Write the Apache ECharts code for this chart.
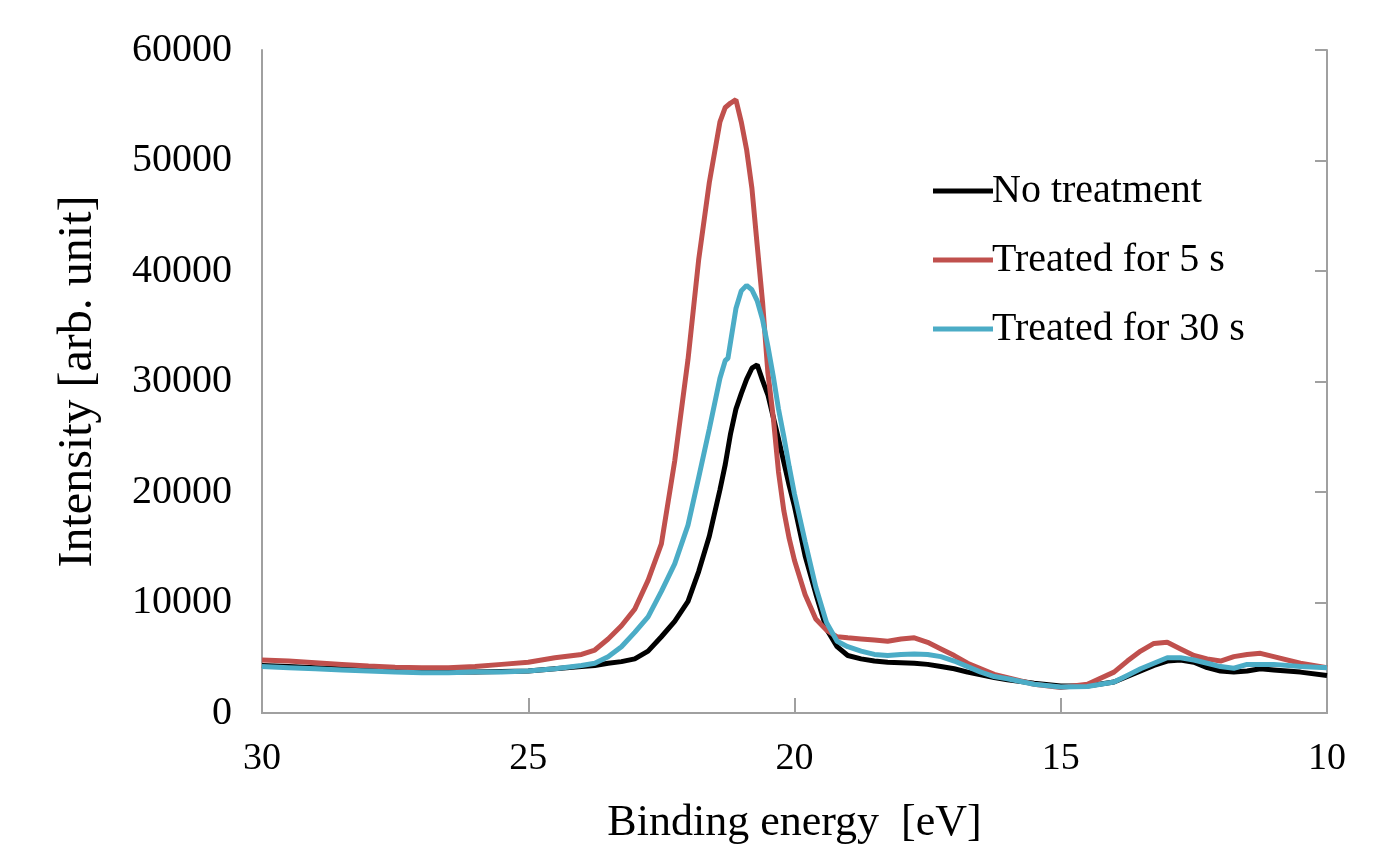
<!DOCTYPE html>
<html>
<head>
<meta charset="utf-8">
<title>Binding energy spectra</title>
<script src="https://cdn.jsdelivr.net/npm/echarts@6/dist/echarts.min.js"></script>
<style>
	html, body { margin: 0; padding: 0; background: #fff; }
	#chart { width: 1391px; height: 846px; }
</style>
</head>
<body>
<div id="chart"></div>
<script>
// 结合能 [eV]
var energy = [30, 29.5, 29, 28.5, 28, 27.5, 27, 26.5, 26, 25.5, 25, 24.5, 24, 23.75, 23.5, 23.25, 23, 22.75, 22.5, 22.25,
	22, 21.8, 21.6, 21.4, 21.3, 21.25, 21.2, 21.1, 21.0, 20.9, 20.8, 20.7, 20.6, 20.5, 20.4, 20.3, 20.2, 20.1, 20.0,
	19.8, 19.6, 19.4, 19.2, 19.0, 18.75, 18.5, 18.25, 18, 17.75, 17.5, 17.25, 17, 16.75, 16.5, 16.25, 16, 15.5, 15,
	14.5, 14, 13.75, 13.5, 13.25, 13, 12.75, 12.5, 12.25, 12, 11.75, 11.5, 11.25, 11, 10.5, 10];

var noTreatment = [4300, 4200, 4100, 4000, 3900, 3800, 3700, 3700, 3700, 3750, 3800, 4000, 4200, 4300, 4500, 4650, 4900, 5600, 6900, 8300,
	10100, 12800, 16000, 20200, 22500, 23900, 25300, 27500, 28900, 30200, 31200, 31500, 30100, 28800, 26800, 24800, 22700, 20600, 18700,
	14200, 10800, 7600, 6000, 5200, 4900, 4700, 4600, 4550, 4500, 4400, 4200, 4000, 3700, 3450, 3200, 3000, 2700, 2450,
	2450, 2800, 3300, 3800, 4300, 4700, 4800, 4600, 4100, 3800, 3700, 3800, 4000, 3900, 3700, 3400];

var treated5s = [4800, 4700, 4550, 4400, 4250, 4150, 4100, 4100, 4200, 4400, 4600, 5000, 5300, 5700, 6700, 7900, 9400, 12000, 15300, 22800,
	32000, 41000, 48000, 53500, 54800, 55000, 55200, 55500, 53500, 51000, 47500, 42300, 37200, 30800, 26800, 21800, 18300, 15800, 13800,
	10700, 8500, 7500, 6900, 6800, 6700, 6600, 6500, 6700, 6800, 6400, 5800, 5200, 4500, 4000, 3500, 3200, 2600, 2300,
	2600, 3700, 4700, 5600, 6300, 6400, 5800, 5200, 4900, 4700, 5100, 5300, 5400, 5100, 4500, 4100];

var treated30s = [4200, 4100, 4000, 3900, 3800, 3700, 3650, 3650, 3700, 3700, 3800, 4000, 4300, 4500, 5100, 6000, 7300, 8700, 11000, 13500,
	17000, 21300, 25700, 30300, 31900, 32100, 33600, 36600, 38200, 38700, 38300, 37300, 35600, 33200, 30500, 27500, 25000, 22300, 19800,
	15500, 11400, 8200, 6500, 6000, 5600, 5300, 5200, 5300, 5350, 5300, 5100, 4700, 4200, 3700, 3300, 3100, 2600, 2350,
	2400, 2800, 3400, 4000, 4500, 5000, 5000, 4800, 4500, 4200, 4050, 4400, 4400, 4400, 4200, 4100];

var seriesNames = ['No treatment', 'Treated for 5 s', 'Treated for 30 s'];
var seriesColors = ['#000000', '#c0504d', '#4bacc6'];

var fontFamily = '"Liberation Serif", "Times New Roman", serif';
var axisGray = '#a0a0a0';

// 组合 [x, y]
function toPairs(values) {
	var arr = [];
	for (var i = 0; i < energy.length; i++) {
		arr.push([energy[i], values[i]]);
	}
	return arr;
}

var myChart = echarts.init(document.getElementById('chart'));

myChart.setOption({
	animation: false,
	backgroundColor: '#fff',
	grid: {
		left: 262,
		right: 64,
		top: 50,
		bottom: 133,
		containLabel: false,
		outerBoundsMode: 'none'
	},
	legend: {
		orient: 'vertical',
		left: 928,
		top: 166,
		itemWidth: 60,
		itemHeight: 5,
		itemGap: 29,
		icon: 'rect',
		data: seriesNames,
		textStyle: {
			fontFamily: fontFamily,
			fontSize: 40,
			lineHeight: 40,
			color: '#000',
			padding: [0, 0, 0, -6]
		}
	},
	xAxis: [
		{
			type: 'value',
			min: 10,
			max: 30,
			interval: 5,
			inverse: true,
			name: 'Binding energy  [eV]',
			nameLocation: 'middle',
			nameGap: 88,
			nameTextStyle: { fontFamily: fontFamily, fontSize: 44, color: '#000' },
			axisLine: { show: true, lineStyle: { color: axisGray, width: 2 } },
			axisTick: { show: true, inside: true, length: 15, lineStyle: { color: axisGray, width: 2 } },
			axisLabel: { fontFamily: fontFamily, fontSize: 38, color: '#000', margin: 27 },
			splitLine: { show: false }
		},
		{
			type: 'value',
			position: 'top',
			min: 10,
			max: 30,
			inverse: true,
			axisLine: { show: true, lineStyle: { color: axisGray, width: 2 } },
			axisTick: { show: false },
			axisLabel: { show: false },
			splitLine: { show: false }
		}
	],
	yAxis: [
		{
			type: 'value',
			min: 0,
			max: 60000,
			interval: 10000,
			name: 'Intensity [arb. unit]',
			nameLocation: 'middle',
			nameGap: 160,
			nameTextStyle: { fontFamily: fontFamily, fontSize: 48, color: '#000' },
			axisLine: { show: true, lineStyle: { color: axisGray, width: 2 } },
			axisTick: { show: false },
			axisLabel: {
				fontFamily: fontFamily,
				fontSize: 40,
				color: '#000',
				margin: 30,
				formatter: function (v) { return String(v); }
			},
			splitLine: { show: false }
		},
		{
			type: 'value',
			position: 'right',
			min: 0,
			max: 60000,
			interval: 10000,
			axisLine: { show: true, lineStyle: { color: axisGray, width: 2 } },
			axisTick: { show: true, inside: true, length: 12, lineStyle: { color: axisGray, width: 2 } },
			axisLabel: { show: false },
			splitLine: { show: false }
		}
	],
	series: [
		{
			name: seriesNames[0],
			type: 'line',
			data: toPairs(noTreatment),
			showSymbol: false,
			symbol: 'none',
			color: seriesColors[0],
			lineStyle: { color: seriesColors[0], width: 5 },
			z: 3
		},
		{
			name: seriesNames[1],
			type: 'line',
			data: toPairs(treated5s),
			showSymbol: false,
			symbol: 'none',
			color: seriesColors[1],
			lineStyle: { color: seriesColors[1], width: 5 },
			z: 4
		},
		{
			name: seriesNames[2],
			type: 'line',
			data: toPairs(treated30s),
			showSymbol: false,
			symbol: 'none',
			color: seriesColors[2],
			lineStyle: { color: seriesColors[2], width: 5 },
			z: 5
		}
	]
});
</script>
</body>
</html>
